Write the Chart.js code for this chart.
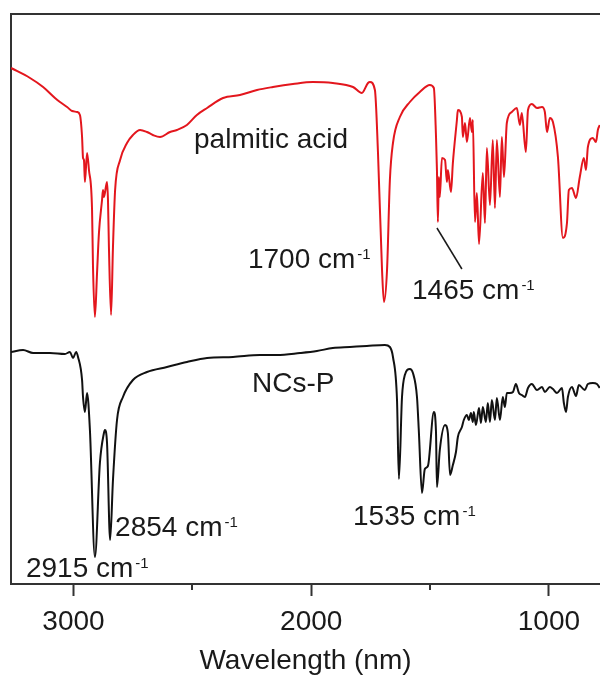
<!DOCTYPE html>
<html>
<head>
<meta charset="utf-8">
<script src="https://cdn.jsdelivr.net/npm/chart.js@4.4.0/dist/chart.umd.min.js"></script>
<style>
  html,body{margin:0;padding:0;background:#fff}
  #wrap{width:600px;height:675px;position:relative}
</style>
</head>
<body>
<div id="wrap"><canvas id="c"></canvas></div>
<script>
// wavenumber (cm-1) and transmittance (a.u., offset)
const wnRed = [3263,3183,3128,3078,3057,3027,3006,2985,2973,2964,2960,2956,2952,2943,2935,2922,2918,2910,2901,2893,
  2880,2876,2872,2859,2855,2851,2842,2834,2825,2804,2775,2750,2720,2691,2666,2636,2594,2565,2523,2481,
  2438,2371,2300,2228,2161,2077,1993,1909,1824,1787,1761,1753,1732,1719,1702,1694,1681,1669,1656,1627,
  1585,1543,1501,1484,1475,1471,1467,1463,1459,1450,1437,1429,1425,1412,1404,1387,1383,1366,1362,1353,
  1345,1332,1324,1320,1311,1303,1294,1278,1269,1261,1248,1236,1227,1219,1206,1198,1189,1177,1156,1135,
  1122,1114,1097,1088,1072,1050,1029,1017,1008,996,983,962,941,924,916,903,886,870,853,844,
  836,815,802,794,786];
const tRed = [103.2,101.2,99.4,97.2,96.4,95.4,94.6,94.4,93.8,89.4,85.2,84.8,80.4,86.2,82.8,74.8,63.4,53.4,62.2,70.2,
  76.8,78.8,77.4,80.4,76.8,67.4,53.8,67.4,78.8,84.8,88.2,89.8,90.8,90.4,89.8,89.4,90.4,90.8,91.8,93.8,
  95.2,97.2,97.8,98.8,99.4,100.0,100.4,100.2,99.4,98.2,100.2,100.4,98.8,86.2,62.8,56.4,62.8,80.8,88.2,93.4,
  96.4,98.4,99.8,99.2,89.6,82.8,72.4,81.4,77.4,85.2,84.8,80.4,82.8,78.4,84.2,92.8,94.8,93.4,89.4,92.2,
  88.4,93.2,90.4,92.8,72.4,78.2,68.0,82.2,72.2,87.2,75.8,88.8,75.2,88.8,77.4,89.4,81.4,92.2,94.4,95.2,
  91.8,94.2,86.4,94.8,96.0,95.2,95.4,94.4,90.4,93.2,92.4,85.4,69.2,72.2,78.8,79.2,77.2,81.4,85.2,82.8,
  87.4,89.2,88.4,90.8,91.8];

const wnBlack = [3263,3212,3170,3099,3036,3015,3002,2989,2981,2964,2960,2952,2943,2931,2910,2889,2872,2868,2859,2846,
  2834,2817,2792,2750,2691,2607,2523,2438,2329,2216,2144,2047,1976,1909,1837,1766,1690,1669,1656,1639,
  1631,1618,1606,1585,1572,1555,1547,1534,1522,1509,1484,1475,1471,1459,1437,1425,1416,1404,1391,1383,
  1366,1358,1345,1337,1328,1320,1316,1307,1294,1286,1278,1265,1257,1248,1240,1227,1219,1206,1194,1185,
  1177,1164,1151,1139,1126,1114,1101,1088,1072,1050,1029,1017,996,983,966,945,937,928,920,903,
  886,874,849,836,815,798,786];
const tBlack = [46.4,46.8,46.2,46.2,46.0,46.4,45.2,46.4,45.4,40.8,37.4,34.4,38.2,30.8,5.4,24.2,30.2,30.8,28.2,8.8,
  20.8,32.8,37.4,40.8,42.4,43.4,44.4,45.2,45.4,45.8,45.8,46.2,46.6,47.2,47.4,47.6,47.8,47.4,45.4,36.8,
  21.0,37.4,41.8,43.0,42.2,37.4,30.4,18.2,23.0,23.6,34.4,30.4,19.4,26.8,31.8,30.2,21.8,23.8,26.4,29.4,
  31.4,32.8,33.8,32.8,34.2,32.4,34.4,31.8,35.2,32.2,35.4,32.4,36.2,32.4,36.8,32.8,37.2,32.8,37.4,35.4,
  38.2,38.2,38.4,40.0,38.2,37.8,37.4,39.2,40.0,38.8,39.4,38.4,39.4,39.0,38.2,39.2,36.2,34.4,37.4,39.4,
  37.6,39.8,38.8,40.0,40.2,40.0,39.2];

const xMajor = [3000, 2000, 1000];
const xMinor = [2500, 1500];

// annotation texts, anchored (left, baseline) in data units
const notes = [
  {text: "palmitic acid", sup: "", wn: 2493, t: 87.2},
  {text: "1700 cm", sup: "-1", wn: 2266, t: 63.2},
  {text: "1465 cm", sup: "-1", wn: 1576, t: 57.0},
  {text: "NCs-P", sup: "", wn: 2249, t: 38.4},
  {text: "2854 cm", sup: "-1", wn: 2825, t: 9.6},
  {text: "2915 cm", sup: "-1", wn: 3200, t: 1.4},
  {text: "1535 cm", sup: "-1", wn: 1824, t: 11.8}
];
const leader = [[1471, 71.2], [1366, 63.0]];

const FONT = '"Liberation Sans", Arial, sans-serif';
const AXIS = '#333';
const INK = '#1a1a1a';

const extras = {
  id: 'extras',
  afterDraw(chart){
    const {ctx, chartArea: a, scales: {x, y}} = chart;
    ctx.save();
    // top frame line
    ctx.strokeStyle = AXIS; ctx.lineWidth = 2;
    ctx.beginPath(); ctx.moveTo(a.left - 1, a.top); ctx.lineTo(a.right, a.top); ctx.stroke();
    // minor ticks
    xMinor.forEach(v => {
      const px = Math.round(x.getPixelForValue(v));
      ctx.beginPath(); ctx.moveTo(px, a.bottom); ctx.lineTo(px, a.bottom + 6); ctx.stroke();
    });
    // leader line to 1465
    ctx.strokeStyle = INK; ctx.lineWidth = 1.5;
    ctx.beginPath();
    ctx.moveTo(x.getPixelForValue(leader[0][0]), y.getPixelForValue(leader[0][1]));
    ctx.lineTo(x.getPixelForValue(leader[1][0]), y.getPixelForValue(leader[1][1]));
    ctx.stroke();
    // labels
    ctx.fillStyle = INK;
    ctx.textBaseline = 'alphabetic';
    ctx.textAlign = 'left';
    notes.forEach(n => {
      const px = x.getPixelForValue(n.wn), py = y.getPixelForValue(n.t);
      ctx.font = '28px ' + FONT;
      ctx.fillText(n.text, px, py);
      if(n.sup){
        const w = ctx.measureText(n.text).width;
        ctx.font = '15px ' + FONT;
        ctx.fillText(n.sup, px + w + 2, py - 9);
      }
    });
    ctx.restore();
  }
};

new Chart(document.getElementById('c'), {
  type: 'line',
  data: {
    datasets: [
      {label: 'palmitic acid', data: wnRed.map((w,i)=>({x:w, y:tRed[i]})), borderColor: '#e3161d', borderWidth: 2},
      {label: 'NCs-P', data: wnBlack.map((w,i)=>({x:w, y:tBlack[i]})), borderColor: '#111', borderWidth: 2}
    ]
  },
  options: {
    responsive: true,
    maintainAspectRatio: false,
    animation: false,
    layout: {padding: {left: 11, top: 14, right: 0, bottom: 0}},
    elements: {point: {radius: 0}, line: {tension: 0, cubicInterpolationMode: 'monotone'}},
    plugins: {legend: {display: false}, tooltip: {enabled: false}},
    scales: {
      x: {
        type: 'linear', reverse: true, min: 785, max: 3263,
        afterBuildTicks: s => { s.ticks = xMajor.map(v => ({value: v})); },
        afterFit: s => { s.height = 91; },
        ticks: {font: {size: 28, family: FONT}, color: INK, padding: 9, maxRotation: 0, autoSkip: false,
                callback: v => String(v)},
        grid: {drawOnChartArea: false, drawTicks: true, tickLength: 12, tickWidth: 2, tickColor: AXIS},
        border: {color: AXIS, width: 2},
        title: {display: true, text: 'Wavelength (nm)', font: {size: 28, family: FONT, lineHeight: 1}, color: INK, padding: {top: 0, bottom: 0}}
      },
      y: {
        min: 0, max: 114,
        ticks: {display: false},
        grid: {display: false, drawTicks: false},
        border: {color: AXIS, width: 2},
        afterFit: s => { s.width = 0; }
      }
    }
  },
  plugins: [extras]
});
</script>
</body>
</html>
